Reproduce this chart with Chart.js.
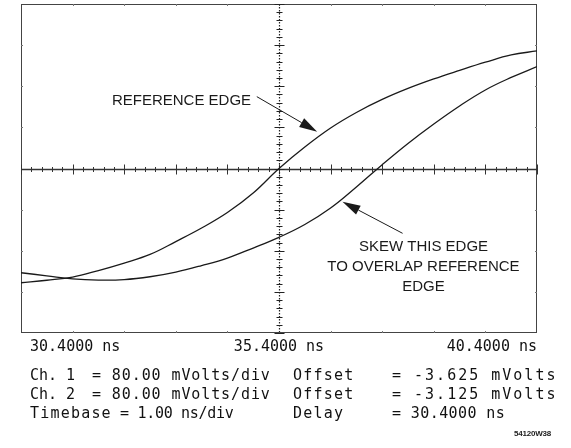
<!DOCTYPE html>
<html>
<head>
<meta charset="utf-8">
<script src="https://cdn.jsdelivr.net/npm/chart.js@4/dist/chart.umd.min.js"></script>
<style>
  html,body{margin:0;padding:0;background:#fff;}
  #wrap{position:relative;width:571px;height:448px;overflow:hidden;}
  canvas{position:absolute;left:0;top:0;}
  .t{position:absolute;font-family:"DejaVu Sans Mono",monospace;font-size:15px;color:#111;white-space:pre;line-height:18px;}
  .code{position:absolute;font-family:"Liberation Sans",Arial,sans-serif;font-size:8px;font-weight:bold;color:#222;letter-spacing:-0.2px;}
</style>
</head>
<body>
<div id="wrap">
  <canvas id="c" width="571" height="448"></canvas>
  <div class="t" style="left:30px;top:366px">Ch. 1</div>
  <div class="t" style="left:92px;top:366px;letter-spacing:0.9px">= 80.00 mVolts/div</div>
  <div class="t" style="left:293px;top:366px;letter-spacing:1.2px">Offset</div>
  <div class="t" style="left:392px;top:366px;letter-spacing:2px">= -3.625 mVolts</div>
  <div class="t" style="left:30px;top:385px">Ch. 2</div>
  <div class="t" style="left:92px;top:385px;letter-spacing:0.9px">= 80.00 mVolts/div</div>
  <div class="t" style="left:293px;top:385px;letter-spacing:1.2px">Offset</div>
  <div class="t" style="left:392px;top:385px;letter-spacing:2px">= -3.125 mVolts</div>
  <div class="t" style="left:30px;top:404px;letter-spacing:1.2px">Timebase</div>
  <div class="t" style="left:120px;top:404px;letter-spacing:-0.3px">= 1.00 ns/div</div>
  <div class="t" style="left:293px;top:404px;letter-spacing:1.2px">Delay</div>
  <div class="t" style="left:392px;top:404px;letter-spacing:0.4px">= 30.4000 ns</div>
  <div class="code" style="left:514px;top:429px">54120W38</div>
</div>
<script>
// time axis (ns)
const timesNs = [30.4, 30.9, 31.4, 31.9, 32.4, 32.9, 33.4, 33.9, 34.4, 34.9, 35.4,
                 35.9, 36.4, 36.9, 37.4, 37.9, 38.4, 38.9, 39.4, 39.9, 40.4];
// Ch.1 reference edge, mV relative to screen centre (80 mV/div)
const referenceEdge = [-222.3, -217.4, -211.2, -198.5, -183.9, -167.2, -142.1, -115.8, -85.6, -47.7, 0,
                       41.8, 78.8, 109.0, 134.3, 155.7, 174.2, 190.8, 206.7, 220.9, 228.7];
// Ch.2 edge to be skewed, mV relative to screen centre
const skewEdge = [-202.8, -208.7, -214.7, -217.0, -216.1, -210.6, -201.5, -188.8, -174.2, -154.7, -133.9,
                  -109.0, -76.9, -36.0, 7.4, 48.7, 86.6, 121.7, 152.8, 177.1, 198.2];
const xTickValues = [30.4, 35.4, 40.4];
const xTickLabels = ["30.4000 ns", "35.4000 ns", "40.4000 ns"];

const ink = '#1a1a1a';

const scopePlugin = {
  id: 'scope',
  beforeDatasetsDraw(chart) {
    const {ctx, chartArea: a, scales: {x, y}} = chart;
    ctx.save();
    // frame
    ctx.strokeStyle = '#444';
    ctx.lineWidth = 1;
    ctx.strokeRect(a.left + 0.5, a.top + 0.5, a.right - a.left - 1, a.bottom - a.top - 1);
    // small frame ticks at divisions
    ctx.strokeStyle = '#777';
    for (let i = 1; i < 10; i++) {
      const px = Math.round(x.getPixelForValue(30.4 + i)) + 0.5;
      ctx.beginPath();
      ctx.moveTo(px, a.top); ctx.lineTo(px, a.top + 2);
      ctx.moveTo(px, a.bottom); ctx.lineTo(px, a.bottom - 2);
      ctx.stroke();
    }
    for (let j = -3; j <= 3; j++) {
      const py = Math.round(y.getPixelForValue(j * 80)) + 0.5;
      ctx.beginPath();
      ctx.moveTo(a.left, py); ctx.lineTo(a.left + 2, py);
      ctx.moveTo(a.right, py); ctx.lineTo(a.right - 2, py);
      ctx.stroke();
    }
    // centre horizontal axis
    const cy = Math.round(y.getPixelForValue(0)) + 0.5;
    const cx = Math.round(x.getPixelForValue(35.4)) + 0.5;
    ctx.strokeStyle = '#333';
    ctx.lineWidth = 1.6;
    ctx.beginPath(); ctx.moveTo(a.left, cy); ctx.lineTo(a.right, cy); ctx.stroke();
    ctx.lineWidth = 1;
    for (let i = 0; i <= 50; i++) {
      const px = Math.round(x.getPixelForValue(30.4 + i * 0.2)) + 0.5;
      const len = (i % 5 === 0) ? 5 : 2.5;
      ctx.beginPath(); ctx.moveTo(px, cy - len); ctx.lineTo(px, cy + len); ctx.stroke();
    }
    // centre vertical axis (dotted)
    ctx.setLineDash([1.5, 1.5]);
    ctx.strokeStyle = '#222';
    ctx.lineWidth = 1.2;
    ctx.beginPath(); ctx.moveTo(cx, a.top); ctx.lineTo(cx, a.bottom); ctx.stroke();
    ctx.setLineDash([]);
    ctx.lineWidth = 1;
    for (let j = -20; j <= 20; j++) {
      const py = Math.round(y.getPixelForValue(j * 16)) + 0.5;
      const len = (j % 5 === 0) ? 5 : 3;
      ctx.beginPath(); ctx.moveTo(cx - len, py); ctx.lineTo(cx + len, py); ctx.stroke();
    }
    ctx.restore();
  },
  afterDatasetsDraw(chart) {
    const {ctx, scales: {x, y}} = chart;
    const P = (t, v) => [x.getPixelForValue(t), y.getPixelForValue(v)];
    ctx.save();
    ctx.fillStyle = ink;
    ctx.strokeStyle = ink;
    ctx.font = '15px "Liberation Sans", Arial, sans-serif';
    ctx.textAlign = 'center';
    ctx.textBaseline = 'middle';
    const labels = [
      ['REFERENCE EDGE', 33.51, 131.4],
      ['SKEW THIS EDGE', 38.2, -152.2],
      ['TO OVERLAP REFERENCE', 38.2, -192.3],
      ['EDGE', 38.2, -231.2]
    ];
    labels.forEach(([s, t, v]) => { const [px, py] = P(t, v); ctx.fillText(s, px, py); });
    const arrows = [
      [34.97, 139.8, 36.14, 71.6],
      [37.795, -126.1, 36.63, -64.6]
    ];
    arrows.forEach(([t0, v0, t1, v1]) => {
      const [x0, y0] = P(t0, v0), [x1, y1] = P(t1, v1);
      const ang = Math.atan2(y1 - y0, x1 - x0);
      const L = 18, W = 5;
      const bx = x1 - L * Math.cos(ang), by = y1 - L * Math.sin(ang);
      ctx.lineWidth = 1;
      ctx.beginPath(); ctx.moveTo(x0, y0); ctx.lineTo(bx, by); ctx.stroke();
      ctx.beginPath();
      ctx.moveTo(x1, y1);
      ctx.lineTo(bx + W * Math.sin(ang), by - W * Math.cos(ang));
      ctx.lineTo(bx - W * Math.sin(ang), by + W * Math.cos(ang));
      ctx.closePath(); ctx.fill();
    });
    ctx.restore();
  }
};

new Chart(document.getElementById('c'), {
  type: 'line',
  data: {
    labels: timesNs,
    datasets: [
      { label: 'Ch. 1', data: timesNs.map((t, i) => ({x: t, y: referenceEdge[i]})),
        borderColor: ink, borderWidth: 1.3, pointRadius: 0, tension: 0.4, fill: false },
      { label: 'Ch. 2', data: timesNs.map((t, i) => ({x: t, y: skewEdge[i]})),
        borderColor: ink, borderWidth: 1.3, pointRadius: 0, tension: 0.4, fill: false }
    ]
  },
  options: {
    responsive: false,
    animation: false,
    devicePixelRatio: 1,
    layout: { padding: { left: 21, right: 34, top: 4, bottom: 0 } },
    plugins: { legend: { display: false }, tooltip: { enabled: false } },
    scales: {
      x: {
        type: 'linear', min: 30.4, max: 40.4,
        grid: { display: false, drawTicks: false },
        border: { display: false },
        afterBuildTicks: s => { s.ticks = xTickValues.map(v => ({ value: v })); },
        afterFit: s => { s.height = 115; },
        ticks: {
          align: 'inner', padding: 5, autoSkip: false, maxRotation: 0,
          color: '#111', font: { family: '"DejaVu Sans Mono", monospace', size: 15 },
          callback: (v) => {
            const i = xTickValues.indexOf(v);
            if (i < 0) return '';
            return i === 0 ? ' ' + xTickLabels[i] : xTickLabels[i];
          }
        }
      },
      y: { display: false, min: -320, max: 320 }
    }
  },
  plugins: [scopePlugin]
});
</script>
</body>
</html>
